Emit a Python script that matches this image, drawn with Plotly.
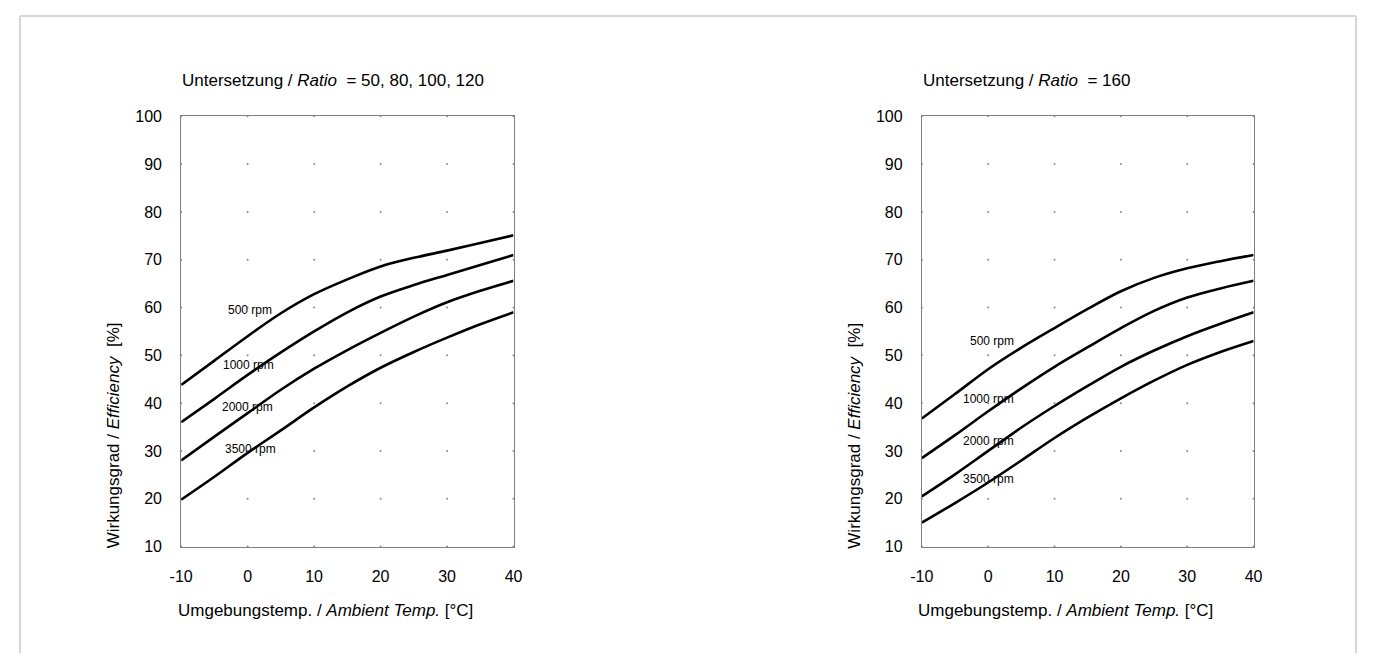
import plotly.graph_objects as go

# ---- data ----
temps = [-10, -5, 0, 5, 10, 15, 20, 25, 30, 35, 40]
speeds = ["500 rpm", "1000 rpm", "2000 rpm", "3500 rpm"]

# Ratio = 50, 80, 100, 120
eff_a_500 = [43.8, 48.9, 54.0, 58.8, 62.8, 65.9, 68.6, 70.4, 71.9, 73.5, 75.1]
eff_a_1000 = [36.0, 40.9, 45.9, 50.6, 55.0, 59.0, 62.3, 64.7, 66.8, 68.9, 71.0]
eff_a_2000 = [28.0, 33.0, 37.9, 42.8, 47.2, 51.1, 54.7, 58.1, 61.1, 63.5, 65.6]
eff_a_3500 = [19.8, 24.6, 29.6, 34.3, 39.1, 43.5, 47.4, 50.7, 53.7, 56.5, 59.0]

# Ratio = 160
eff_b_500 = [36.8, 41.9, 47.1, 51.6, 55.7, 59.7, 63.4, 66.2, 68.2, 69.7, 71.0]
eff_b_1000 = [28.5, 33.3, 38.3, 43.1, 47.6, 51.7, 55.7, 59.3, 62.1, 64.0, 65.6]
eff_b_2000 = [20.5, 25.1, 30.0, 34.9, 39.4, 43.6, 47.6, 51.0, 54.0, 56.6, 59.0]
eff_b_3500 = [15.0, 19.1, 23.4, 28.0, 32.7, 37.0, 41.0, 44.7, 48.0, 50.7, 53.0]

# rpm label anchor positions (data coords)
lab_x_a = [0.4, 0.1, 0.0, 0.4]
lab_y_a = [59.4, 47.9, 39.1, 30.4]
lab_x_b = [0.6, 0.0, 0.0, 0.0]
lab_y_b = [53.1, 40.9, 32.1, 24.1]

xticks = [-10, 0, 10, 20, 30, 40]
yticks = [10, 20, 30, 40, 50, 60, 70, 80, 90, 100]

title_a = "Untersetzung / <i>Ratio</i>  = 50, 80, 100, 120"
title_b = "Untersetzung / <i>Ratio</i>  = 160"
xtitle = "Umgebungstemp. / <i>Ambient Temp.</i> [°C]"
ytitle = "Wirkungsgrad / <i>Efficiency</i>  [%]"

FONT = "Liberation Sans, Arial, sans-serif"
W, H = 1357, 654   # fits the 1373x670 window with the page's 8px body margin

fig = go.Figure()

series_a = [eff_a_500, eff_a_1000, eff_a_2000, eff_a_3500]
series_b = [eff_b_500, eff_b_1000, eff_b_2000, eff_b_3500]

# dotted grid: dots at tick intersections
gx = [x for x in xticks for y in yticks]
gy = [y for x in xticks for y in yticks]
for xa, ya in (("x", "y"), ("x2", "y2")):
    fig.add_trace(go.Scatter(x=gx, y=gy, mode="markers", xaxis=xa, yaxis=ya,
                             marker=dict(size=2, color="#8a8a8a"),
                             hoverinfo="skip", showlegend=False, cliponaxis=False))

for s, name in zip(series_a, speeds):
    fig.add_trace(go.Scatter(x=temps, y=s, mode="lines", name=name, xaxis="x", yaxis="y",
                             line=dict(color="black", width=2.6, shape="spline", smoothing=1.0),
                             showlegend=False))
for s, name in zip(series_b, speeds):
    fig.add_trace(go.Scatter(x=temps, y=s, mode="lines", name=name, xaxis="x2", yaxis="y2",
                             line=dict(color="black", width=2.6, shape="spline", smoothing=1.0),
                             showlegend=False))

xd1 = [163.7 / W, 501.3 / W]
xd2 = [916.0 / W, 1253.0 / W]
yd = [1 - 544.7 / H, 1 - 103.0 / H]

tick_txt_x = [str(v) for v in xticks]
tick_txt_y = [str(v) for v in yticks]

axis_common = dict(showgrid=False, zeroline=False, showline=True, linecolor="#808080",
                   linewidth=1, mirror=True, ticks="",
                   tickfont=dict(family=FONT, size=16, color="black"))

fig.update_layout(
    width=W, height=H,
    margin=dict(l=0, r=0, t=0, b=0),
    paper_bgcolor="white", plot_bgcolor="white",
    font=dict(family=FONT, color="black"),
    xaxis=dict(domain=xd1, range=[-10, 40], tickvals=xticks, ticktext=tick_txt_x, anchor="y", **axis_common),
    yaxis=dict(domain=yd, range=[10, 100], tickvals=yticks, ticktext=tick_txt_y, anchor="x", **axis_common),
    xaxis2=dict(domain=xd2, range=[-10, 40], tickvals=xticks, ticktext=tick_txt_x, anchor="y2", **axis_common),
    yaxis2=dict(domain=yd, range=[10, 100], tickvals=yticks, ticktext=tick_txt_y, anchor="x2", **axis_common),
)
fig.update_xaxes(ticklabelstandoff=15)
fig.update_yaxes(ticklabelstandoff=15)

anns = []
for lx, ly, t in zip(lab_x_a, lab_y_a, speeds):
    anns.append(dict(x=lx, y=ly, xref="x", yref="y", text=t, showarrow=False,
                     font=dict(family=FONT, size=12, color="black")))
for lx, ly, t in zip(lab_x_b, lab_y_b, speeds):
    anns.append(dict(x=lx, y=ly, xref="x2", yref="y2", text=t, showarrow=False,
                     font=dict(family=FONT, size=12, color="black")))

for x0, tt in ((163, title_a), (915, title_b)):
    anns.append(dict(x=x0 / W, y=1 - 66 / H, xref="paper", yref="paper", text=tt,
                     showarrow=False, xanchor="left", yanchor="middle",
                     font=dict(family=FONT, size=17, color="black")))
for xc in (310, 1062):
    anns.append(dict(x=xc / W, y=1 - 610 / H, xref="paper", yref="paper", text=xtitle,
                     showarrow=False, xanchor="center", yanchor="middle",
                     font=dict(family=FONT, size=17, color="black")))
for xc in (95, 848):
    anns.append(dict(x=xc / W, y=1 - 431 / H, xref="paper", yref="paper", text=ytitle,
                     showarrow=False, xanchor="center", yanchor="middle", textangle=-90,
                     font=dict(family=FONT, size=17, color="black")))
fig.update_layout(annotations=anns)

# light frame: left, top, right edges of the page area
for (x0, y0, x1, y1) in ((0, 0, 0, 1), (0, 1, 1, 1), (1, 0, 1, 1)):
    fig.add_shape(type="line", xref="paper", yref="paper", x0=x0, y0=y0, x1=x1, y1=y1,
                  line=dict(color="#d6d6d6", width=2), layer="below")

fig.write_html("out.html")
